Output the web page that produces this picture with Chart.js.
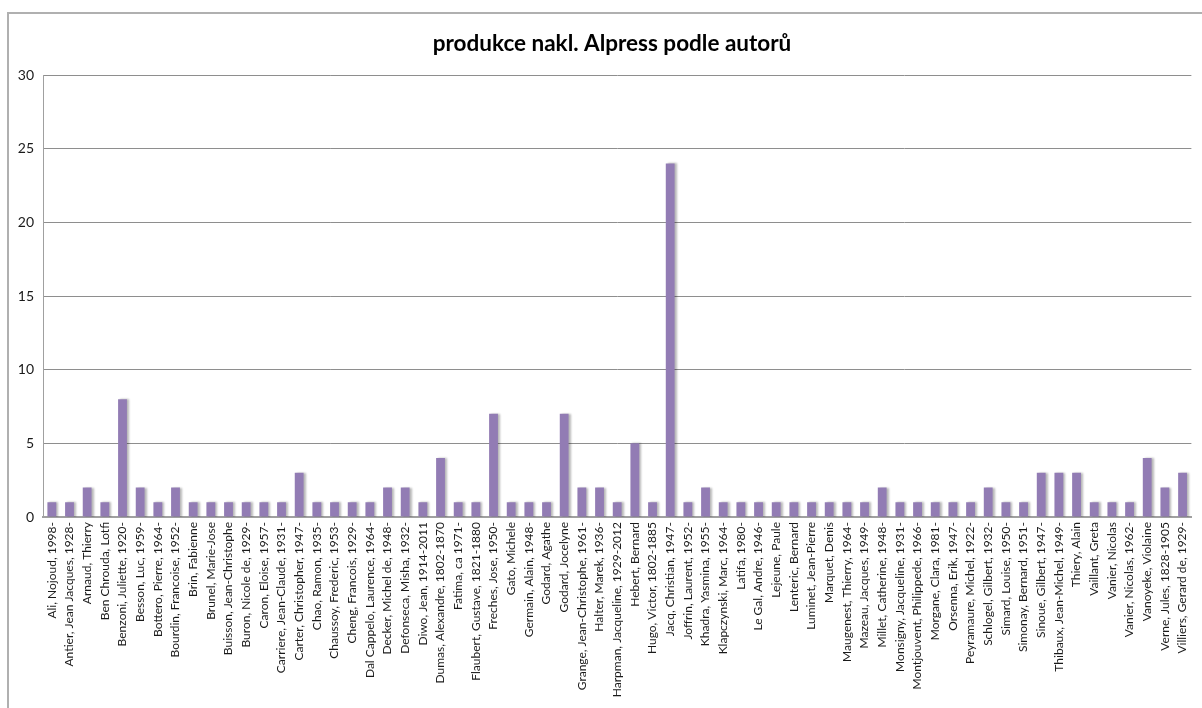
<!DOCTYPE html>
<html>
<head>
<meta charset="utf-8">
<script src="https://cdn.jsdelivr.net/npm/chart.js@4/dist/chart.umd.min.js"></script>
<style>
  html, body { margin:0; padding:0; background:#fff; }
  #wrap { position:relative; width:1202px; height:708px; overflow:hidden; }
  #frame { position:absolute; left:7px; top:12px; width:1300px; height:800px;
           border-left:2px solid #b0b0b0; border-top:2px solid #b0b0b0; }
  #chart { position:absolute; left:0; top:0; }
</style>
</head>
<body>
<div id="wrap">
  <div id="frame"></div>
  <canvas id="chart" width="1202" height="708"></canvas>
</div>
<script>
const title = 'produkce nakl. Alpress podle autorů';

const authors = [
  'Ali, Nojoud, 1998-', 'Antier, Jean Jacques, 1928-', 'Arnaud, Thierry', 'Ben Chrouda, Lotfi',
  'Benzoni, Juliette, 1920-', 'Besson, Luc, 1959-', 'Bottero, Pierre, 1964-', 'Bourdin, Francoise, 1952-',
  'Brin, Fabienne', 'Brunel, Marie-Jose', 'Buisson, Jean-Christophe', 'Buron, Nicole de, 1929-',
  'Caron, Eloise, 1957-', 'Carriere, Jean-Claude, 1931-', 'Carter, Christopher, 1947-', 'Chao, Ramon, 1935-',
  'Chaussoy, Frederic, 1953-', 'Cheng, Francois, 1929-', 'Dal Cappelo, Laurence, 1964-', 'Decker, Michel de, 1948-',
  'Defonseca, Misha, 1932-', 'Diwo, Jean, 1914-2011', 'Dumas, Alexandre, 1802-1870', 'Fatima, ca 1971-',
  'Flaubert, Gustave, 1821-1880', 'Freches, Jose, 1950-', 'Gato, Michele', 'Germain, Alain, 1948-',
  'Godard, Agathe', 'Godard, Jocelyne', 'Grange, Jean-Christophe, 1961-', 'Halter, Marek, 1936-',
  'Harpman, Jacqueline, 1929-2012', 'Hebert, Bernard', 'Hugo, Victor, 1802-1885', 'Jacq, Christian, 1947-',
  'Joffrin, Laurent, 1952-', 'Khadra, Yasmina, 1955-', 'Klapczynski, Marc, 1964-', 'Latifa, 1980-',
  'Le Gal, Andre, 1946-', 'Lejeune, Paule', 'Lenteric, Bernard', 'Luminet, Jean-Pierre',
  'Marquet, Denis', 'Maugenest, Thierry, 1964-', 'Mazeau, Jacques, 1949-', 'Millet, Catherine, 1948-',
  'Monsigny, Jacqueline, 1931-', 'Montjouvent, Philippede, 1966-', 'Morgane, Clara, 1981-', 'Orsenna, Erik, 1947-',
  'Peyramaure, Michel, 1922-', 'Schlogel, Gilbert, 1932-', 'Simard, Louise, 1950-', 'Simonay, Bernard, 1951-',
  'Sinoue, Gilbert, 1947-', 'Thibaux, Jean-Michel, 1949-', 'Thiery, Alain', 'Vaillant, Greta',
  'Vanier, Nicolas', 'Vanier, Nicolas, 1962-', 'Vanoyeke, Violaine', 'Verne, Jules, 1828-1905',
  'Villiers, Gerard de, 1929-'
];

const titles = [
  1, 1, 2, 1, 8, 2, 1, 2, 1, 1, 1, 1, 1, 1, 3, 1,
  1, 1, 1, 2, 2, 1, 4, 1, 1, 7, 1, 1, 1, 7, 2, 2,
  1, 5, 1, 24, 1, 2, 1, 1, 1, 1, 1, 1, 1, 1, 1, 2,
  1, 1, 1, 1, 1, 2, 1, 1, 3, 3, 3, 1, 1, 1, 4, 2,
  3
];

const yMax = 30;
const yStep = 5;

// soft grey shadow on the right side of each bar
const barShadow = {
  id: 'barShadow',
  beforeDatasetDraw(chart) {
    const c = chart.ctx;
    c.save();
    c.shadowColor = 'rgba(0,0,0,0.28)';
    c.shadowOffsetX = 2;
    c.shadowOffsetY = 0;
    c.shadowBlur = 2;
  },
  afterDatasetDraw(chart) { chart.ctx.restore(); }
};

// heading drawn by hand so the plot top stays fixed
const heading = {
  id: 'heading',
  afterDraw(chart) {
    const c = chart.ctx;
    c.save();
    c.font = 'bold 22.5px Lato, "Open Sans", sans-serif';
    c.fillStyle = '#000';
    c.textAlign = 'center';
    c.textBaseline = 'middle';
    c.fillText(title, 612, 44);
    c.restore();
  }
};

new Chart(document.getElementById('chart'), {
  type: 'bar',
  data: {
    labels: authors,
    datasets: [{
      data: titles,
      backgroundColor: '#927cb4',
      borderWidth: 0,
      barPercentage: 0.5,
      categoryPercentage: 1
    }]
  },
  options: {
    responsive: false,
    animation: false,
    layout: { padding: { left: 0, right: 6, top: 75, bottom: 0 } },
    plugins: { legend: { display: false }, tooltip: { enabled: false }, title: { display: false } },
    scales: {
      x: {
        afterFit: s => { s.height = 191; },
        grid: { display: false, drawTicks: false },
        border: { color: '#a0a0a0', width: 2 },
        ticks: {
          autoSkip: false, maxRotation: 90, minRotation: 90, padding: 5,
          color: '#1a1a1a', font: { family: 'Lato, "Open Sans", sans-serif', size: 12 }
        }
      },
      y: {
        min: 0, max: yMax,
        afterFit: s => { s.width = 43; },
        grid: { color: '#8e8e8e', lineWidth: 1, drawTicks: false },
        border: { color: '#a0a0a0', width: 1 },
        ticks: {
          stepSize: yStep, padding: 9,
          color: '#1a1a1a', font: { family: 'Lato, "Open Sans", sans-serif', size: 14 }
        }
      }
    }
  },
  plugins: [barShadow, heading]
});
</script>
</body>
</html>
